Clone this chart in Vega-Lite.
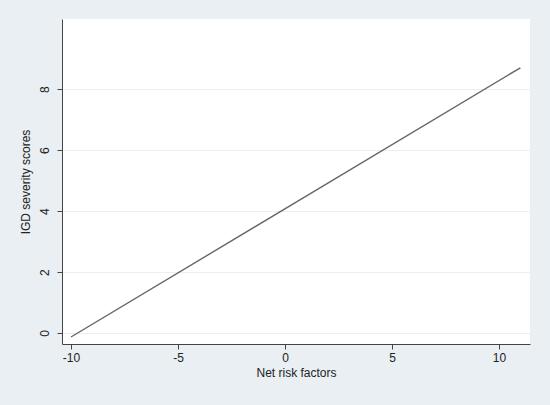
{
  "$schema": "https://vega.github.io/schema/vega-lite/v6.json",
  "autosize": {"type": "none"},
  "width": 468,
  "height": 325,
  "padding": {"left": 62, "top": 19, "right": 20, "bottom": 61},
  "background": "#e9eff2",
  "config": {
    "view": {"fill": "white", "stroke": null},
    "font": "Liberation Sans"
  },
  "data": {"values": [
    {"net": -10, "igd": -0.13},
    {"net": 11, "igd": 8.7}
  ]},
  "mark": {"type": "line", "color": "#666666", "strokeWidth": 1.4},
  "encoding": {
    "x": {
      "field": "net", "type": "quantitative",
      "scale": {"domain": [-10.42, 11.45], "nice": false, "zero": false},
      "axis": {
        "title": "Net risk factors", "values": [-10, -5, 0, 5, 10],
        "labelExpr": "datum.value + ''",
        "grid": false, "domainColor": "#444444", "tickColor": "#444444",
        "tickSize": 5, "labelFontSize": 12, "labelColor": "#222222",
        "titleFontSize": 12, "titleFontWeight": "normal", "titleColor": "#222222",
        "labelPadding": 3, "titlePadding": 4
      }
    },
    "y": {
      "field": "igd", "type": "quantitative",
      "scale": {"domain": [-0.36, 10.3], "nice": false, "zero": false},
      "axis": {
        "title": "IGD severity scores", "values": [0, 2, 4, 6, 8],
        "grid": true, "gridColor": "#e8f0f2", "gridWidth": 1,
        "domainColor": "#444444", "tickColor": "#444444",
        "tickSize": 5, "labelFontSize": 12, "labelColor": "#222222",
        "labelAngle": -90, "labelAlign": "center", "labelBaseline": "bottom",
        "labelPadding": 6,
        "titleFontSize": 12, "titleFontWeight": "normal", "titleColor": "#222222",
        "titlePadding": 6
      }
    }
  }
}
